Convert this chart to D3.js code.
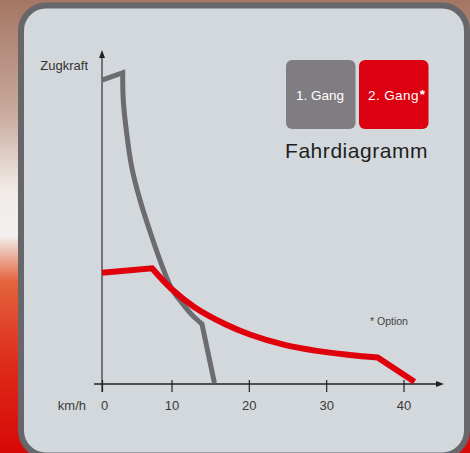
<!DOCTYPE html>
<html>
<head>
<meta charset="utf-8">
<script src="https://cdn.jsdelivr.net/npm/d3@7"></script>
<style>
  body { margin: 0; background: #fff; }
  svg { display: block; font-family: "Liberation Sans", Arial, sans-serif; }
</style>
</head>
<body>
<div id="chart"></div>
<script>
// 1. Gang (grey) and 2. Gang (red), speed in km/h, Zugkraft in relative units
const speed1 = [0, 2.98, 3.06, 3.55, 4.27, 5.47, 6.98, 8.71, 10.06, 11.35, 12.65, 13.94, 15.55]
const force1 = [91.0, 93.2, 85.0, 75.1, 65.0, 55.1, 45.2, 35.0, 28.4, 24.3, 20.7, 17.96, 0.3]
const speed2 = [0, 7.2, 9.93, 13.03, 16.9, 20.13, 24.39, 28.77, 33.03, 36.65, 41.42]
const force2 = [33.3, 34.64, 28.59, 22.9, 17.96, 14.82, 11.86, 9.91, 8.71, 7.96, 0.69]
// indexes where the curves have a sharp corner
const corners1 = [1, 11]
const corners2 = [1, 9]
const xTicks = [0, 10, 20, 30, 40]
const gears = ['1. Gang', '2. Gang']

const width = 470
const height = 453

const svg = d3.select('#chart').append('svg').attr('width', width).attr('height', height)

// backdrop photo-ish gradient
const defs = svg.append('defs')
const bg = defs.append('linearGradient').attr('id', 'bg').attr('x1', 0).attr('y1', 0).attr('x2', 0).attr('y2', 1)
bg.append('stop').attr('offset', '0%').attr('stop-color', '#a47664')
bg.append('stop').attr('offset', '25%').attr('stop-color', '#c9aa9d')
bg.append('stop').attr('offset', '42%').attr('stop-color', '#f1ebe8')
bg.append('stop').attr('offset', '52%').attr('stop-color', '#f2f0ee')
bg.append('stop').attr('offset', '62%').attr('stop-color', '#e4643e')
bg.append('stop').attr('offset', '80%').attr('stop-color', '#de2c18')
bg.append('stop').attr('offset', '100%').attr('stop-color', '#d80808')
svg.append('rect').attr('width', width).attr('height', height).attr('fill', 'url(#bg)')

// card
svg.append('rect')
  .attr('x', 21).attr('y', 5.5).attr('width', 446).attr('height', 450)
  .attr('rx', 25)
  .attr('fill', '#d3d8dc').attr('stroke', '#67676b').attr('stroke-width', 6)

const x = d3.scaleLinear().domain([0, 10, 40]).range([102, 171.5, 403.5])
const y = d3.scaleLinear().domain([0, 100]).range([384, 50])

// y axis
svg.append('line')
  .attr('x1', x(0)).attr('x2', x(0)).attr('y1', 392).attr('y2', y(100) + 5)
  .attr('stroke', '#4a4a4e').attr('stroke-width', 1.4)
svg.append('path')
  .attr('d', `M${x(0)},${y(100)} l-3,8 l6,0 z`)
  .attr('fill', '#222')

// x axis
svg.append('line')
  .attr('x1', 94).attr('x2', 440).attr('y1', y(0)).attr('y2', y(0))
  .attr('stroke', '#222').attr('stroke-width', 1.3)
svg.append('path')
  .attr('d', `M444,${y(0)} l-8,-3 l0,6 z`)
  .attr('fill', '#222')

const xAxis = d3.axisBottom(x).tickValues(xTicks).tickSize(8).tickFormat(d3.format('d'))
const xAxisGroup = svg.append('g').attr('transform', `translate(0, ${y(0)})`).call(xAxis)
xAxisGroup.select('.domain').remove()
xAxisGroup.selectAll('.tick line').attr('y1', -4).attr('y2', 8).attr('stroke', '#222').attr('stroke-width', 1.2)
xAxisGroup.selectAll('.tick text')
  .attr('y', 26).attr('dy', 0)
  .attr('font-family', '"Liberation Sans", Arial, sans-serif')
  .attr('font-size', 13).attr('fill', '#3a3a3a')
  .attr('dx', d => d === 0 ? 2 : 0)

svg.append('text').attr('x', 86).attr('y', 410).attr('text-anchor', 'end')
  .attr('font-size', 13).attr('fill', '#3a3a3a').text('km/h')
svg.append('text').attr('x', 88).attr('y', 70).attr('text-anchor', 'end')
  .attr('font-size', 13).attr('fill', '#333').text('Zugkraft')

// curves: smooth between corners, straight segments joined with miter
const smooth = d3.line().x(d => x(d[0])).y(d => y(d[1])).curve(d3.curveCatmullRom.alpha(0.5))
function curvePath(speed, force, corners) {
  const pts = speed.map((s, i) => [s, force[i]])
  const cuts = [0, ...corners, pts.length - 1]
  let d = ''
  for (let k = 0; k < cuts.length - 1; k++) {
    const seg = smooth(pts.slice(cuts[k], cuts[k + 1] + 1))
    d += k === 0 ? seg : 'L' + seg.slice(1)
  }
  return d
}

svg.append('path').attr('d', curvePath(speed1, force1, corners1))
  .attr('fill', 'none').attr('stroke', '#6b6b70').attr('stroke-width', 5).attr('stroke-linejoin', 'miter')
svg.append('path').attr('d', curvePath(speed2, force2, corners2))
  .attr('fill', 'none').attr('stroke', '#e0000b').attr('stroke-width', 6).attr('stroke-linejoin', 'miter')

// legend boxes
const legend = svg.append('g')
const boxColors = ['#7f7d82', '#dc0010']
const boxX = [286, 359]
legend.selectAll('rect').data(gears).enter().append('rect')
  .attr('x', (d, i) => boxX[i]).attr('y', 60)
  .attr('width', 69.5).attr('height', 69)
  .attr('rx', 6)
  .attr('fill', (d, i) => boxColors[i])
legend.selectAll('text').data(gears).enter().append('text')
  .attr('x', (d, i) => boxX[i] + (i === 0 ? 34 : 9))
  .attr('y', 100)
  .attr('text-anchor', (d, i) => i === 0 ? 'middle' : 'start')
  .attr('font-size', 13.5).attr('fill', '#fff')
  .attr('letter-spacing', (d, i) => i === 0 ? 0 : 0.4)
  .each(function (d, i) {
    d3.select(this).append('tspan').text(d)
    if (i === 1) d3.select(this).append('tspan').attr('font-weight', 'bold').attr('dx', 1).attr('dy', -1).text('*')
  })

svg.append('text').attr('x', 285).attr('y', 158)
  .attr('font-size', 21).attr('letter-spacing', 0.55).attr('fill', '#1e1e1e').text('Fahrdiagramm')

svg.append('text').attr('x', 370).attr('y', 325)
  .attr('font-size', 10.5).attr('fill', '#444').text('* Option')
</script>
</body>
</html>
